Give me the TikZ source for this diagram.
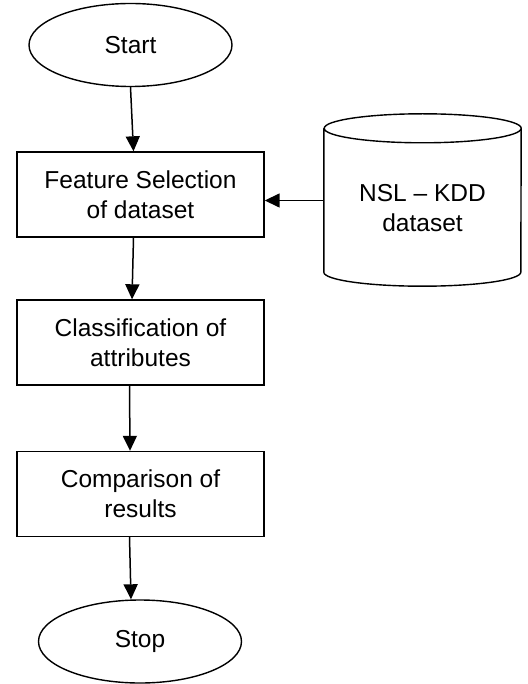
\documentclass[tikz,border=0pt]{standalone}
\usepackage{fontspec}
\setmainfont{Liberation Sans}
\usetikzlibrary{shapes.geometric,arrows.meta}
\begin{document}
\begin{tikzpicture}[x=1pt,y=-1pt,
  every node/.style={font=\fontsize{24.5}{30}\selectfont, align=center},
  term/.style={ellipse, draw, line width=1.4pt, minimum width=203pt, minimum height=83pt, inner sep=0pt},
  procbox/.style={rectangle, draw, line width=1.4pt, minimum width=247pt, minimum height=85pt, inner sep=0pt},
  arr/.style={line width=1.5pt, -{Triangle[length=15pt,width=14pt]}},
  cyl/.style={line width=1.4pt}
]
\useasboundingbox (0,0) rectangle (527,684);
\node[term] (start) at (130.5,45) {Start};
\node[procbox] (feat) at (140.5,194.5) {Feature Selection\\of dataset};
\node[procbox] (class) at (140.5,342.5) {Classification of\\attributes};
\node[procbox] (comp) at (140.5,494) {Comparison of\\results};
\node[term] (stop) at (140,641.5) {Stop};
% database cylinder
\node[rectangle, minimum width=197pt, minimum height=115pt, inner sep=0pt] (db) at (422.5,200.5) {};
\draw[cyl] ([yshift=14.5pt]db.north west) -- ([yshift=-14pt]db.south west)
  arc[start angle=180, end angle=360, x radius=98.5pt, y radius=14pt]
  -- ([yshift=14.5pt]db.north east)
  arc[start angle=0, end angle=180, x radius=98.5pt, y radius=14.5pt]
  arc[start angle=180, end angle=360, x radius=98.5pt, y radius=14.5pt];
\node (dbt) at (422.5,208) {NSL -- KDD\\dataset};
% connectors
\draw[arr] (start.south) -- ([xshift=-7pt]feat.north);
\draw[arr] ([xshift=-7pt]feat.south) -- ([xshift=-8.5pt]class.north);
\draw[arr] ([xshift=-11pt]class.south) -- ([xshift=-10.5pt]comp.north);
\draw[arr] ([xshift=-11pt]comp.south) -- ([xshift=-9pt]stop.north);
\draw[arr] (db.west) -- (db.west -| feat.east);
\end{tikzpicture}
\end{document}
